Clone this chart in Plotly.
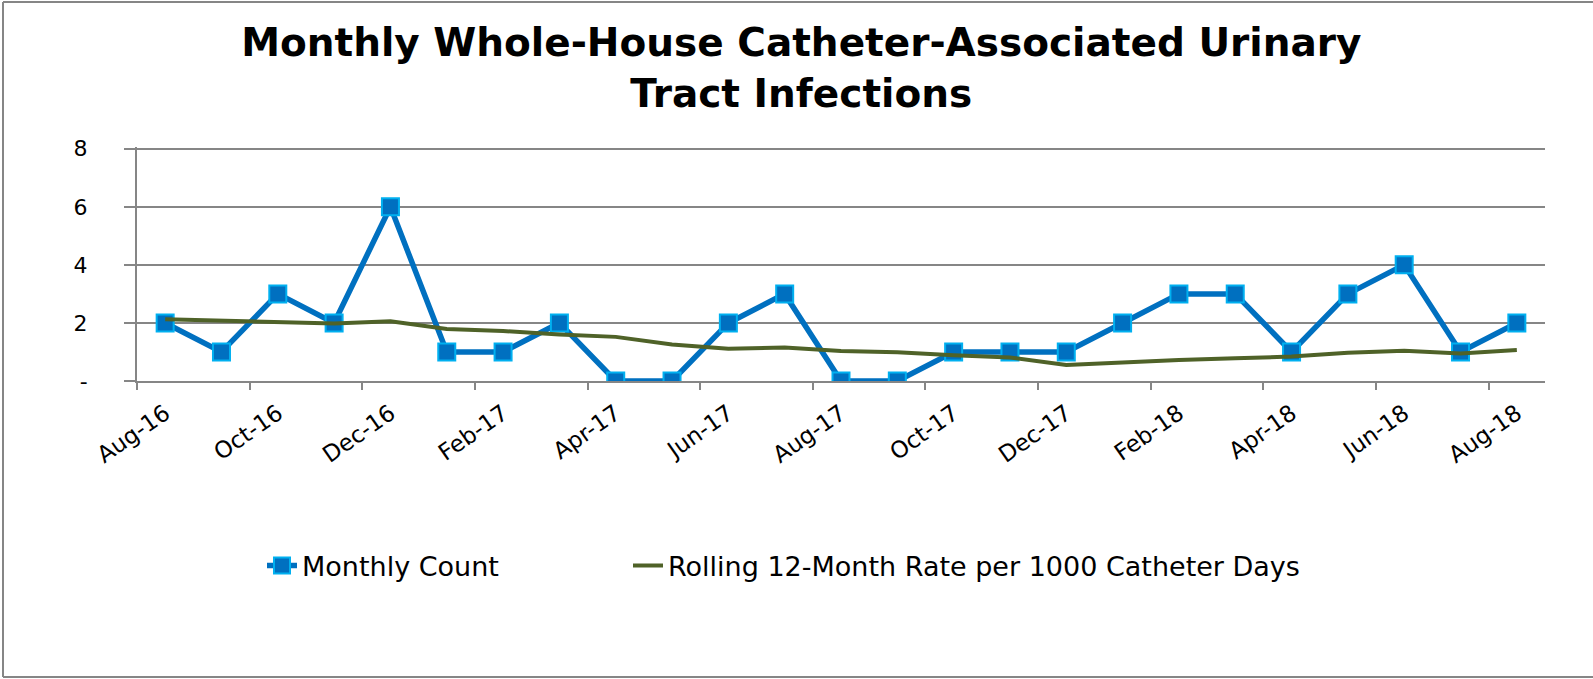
import plotly.graph_objects as go

categories = ["Aug-16", "Sep-16", "Oct-16", "Nov-16", "Dec-16", "Jan-17", "Feb-17", "Mar-17",
              "Apr-17", "May-17", "Jun-17", "Jul-17", "Aug-17", "Sep-17", "Oct-17", "Nov-17",
              "Dec-17", "Jan-18", "Feb-18", "Mar-18", "Apr-18", "May-18", "Jun-18", "Jul-18", "Aug-18"]
monthly_count = [2, 1, 3, 2, 6, 1, 1, 2, 0, 0, 2, 3, 0, 0, 1, 1, 1, 2, 3, 3, 1, 3, 4, 1, 2]
rolling_rate = [2.13, 2.08, 2.06, 1.98, 2.06, 1.79, 1.72, 1.60, 1.52, 1.26, 1.11, 1.15, 1.03,
                0.99, 0.89, 0.81, 0.55, 0.64, 0.72, 0.78, 0.84, 0.97, 1.04, 0.95, 1.07]
y_tickvals = [0, 2, 4, 6, 8]
y_ticktext = ["-", "2", "4", "6", "8"]

idx = list(range(len(categories)))
label_idx = idx[::2]
label_text = [categories[i] for i in label_idx]
boundaries = [i - 0.5 for i in range(0, len(categories) + 1, 2)]

GRID = "#868686"
FONT = "DejaVu Sans"
W, H = 1593, 679
PL, PR, PT, PB = 137, 1545, 147, 381  # plot area in pixels

fig = go.Figure()
fig.add_trace(go.Scatter(
    x=idx, y=monthly_count, name="Monthly Count", mode="lines+markers",
    line=dict(color="#0070C0", width=5.5),
    marker=dict(symbol="square", size=17, color="#0070C0",
                line=dict(color="#00B0F0", width=2)),
    legend="legend",
))
fig.add_trace(go.Scatter(
    x=idx, y=rolling_rate, name="Rolling 12-Month Rate per 1000 Catheter Days", mode="lines",
    line=dict(color="#4F6228", width=4),
    legend="legend2",
))

def px_x(p):
    return (p - PL) / float(PR - PL)

def px_y(p):
    return (PB - p) / float(PB - PT)

shapes = [
    dict(type="line", xref="paper", yref="paper", x0=px_x(3), x1=px_x(3), y0=px_y(2), y1=px_y(677),
         line=dict(color=GRID, width=2)),
    dict(type="line", xref="paper", yref="paper", x0=px_x(3), x1=px_x(1600), y0=px_y(2), y1=px_y(2),
         line=dict(color=GRID, width=2)),
    dict(type="line", xref="paper", yref="paper", x0=px_x(3), x1=px_x(1600), y0=px_y(677), y1=px_y(677),
         line=dict(color=GRID, width=2)),
]

legend_font = dict(family=FONT, size=27, color="#000000")

fig.update_layout(
    width=W, height=H,
    margin=dict(l=PL, r=W - PR, t=PT, b=H - PB),
    paper_bgcolor="white", plot_bgcolor="white",
    font=dict(family=FONT, color="#000000"),
    title=dict(text="<b>Monthly Whole-House Catheter-Associated Urinary<br>Tract Infections</b>",
               x=0.503, xanchor="center", xref="container",
               y=0.917, yanchor="top", yref="container",
               font=dict(family=FONT, size=39, color="#000000")),
    showlegend=True,
    legend=dict(orientation="h", x=px_x(262), xanchor="left", y=px_y(566), yanchor="middle",
                font=legend_font, bgcolor="rgba(0,0,0,0)"),
    legend2=dict(orientation="h", x=px_x(628), xanchor="left", y=px_y(566), yanchor="middle",
                 font=legend_font, bgcolor="rgba(0,0,0,0)"),
    shapes=shapes,
)
fig.update_xaxes(
    range=[-0.5, len(categories) - 0.5], showgrid=False, zeroline=False,
    showline=True, linecolor=GRID, linewidth=2,
    tickmode="array", tickvals=label_idx, ticktext=label_text,
    ticks="outside", ticklen=8, tickcolor="rgba(0,0,0,0)",
    tickangle=-35, tickfont=dict(family=FONT, size=23, color="#000000"),
    minor=dict(tickmode="array", tickvals=boundaries, ticks="outside", ticklen=7,
               tickcolor=GRID, tickwidth=2, showgrid=False),
)
fig.update_yaxes(
    range=[0, 8.06], tickmode="array", tickvals=y_tickvals, ticktext=y_ticktext,
    showgrid=True, gridcolor=GRID, gridwidth=2, zeroline=False,
    showline=True, linecolor=GRID, linewidth=2,
    ticks="outside", ticklen=11, tickcolor=GRID, tickwidth=2,
    ticklabelstandoff=32,
    tickfont=dict(family=FONT, size=22, color="#000000"),
)

fig.write_html("out.html", config={"displayModeBar": False},
               post_script="document.body.style.margin='0px';document.body.style.overflow='hidden';")
